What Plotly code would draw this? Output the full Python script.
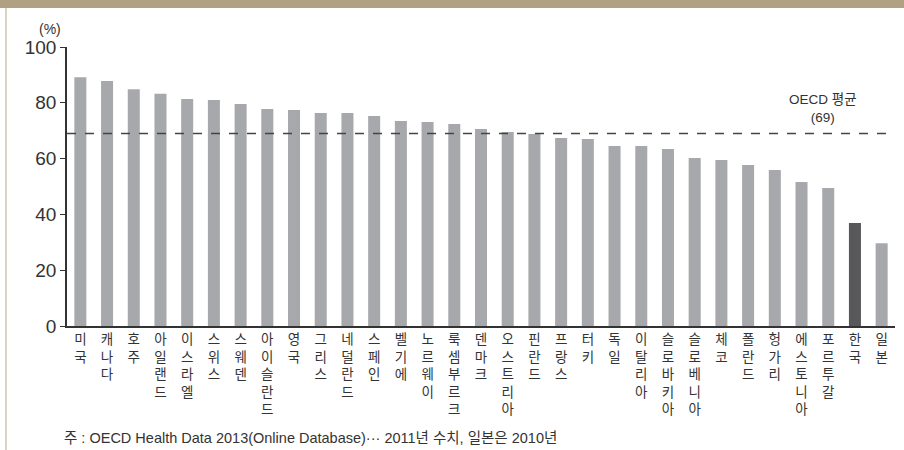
import plotly.graph_objects as go

# OECD countries and share of population rating their own health as good (%)
countries = ["미국", "캐나다", "호주", "아일랜드", "이스라엘", "스위스", "스웨덴", "아이슬란드",
             "영국", "그리스", "네덜란드", "스페인", "벨기에", "노르웨이", "룩셈부르크", "덴마크",
             "오스트리아", "핀란드", "프랑스", "터키", "독일", "이탈리아", "슬로바키아", "슬로베니아",
             "체코", "폴란드", "헝가리", "에스토니아", "포르투갈", "한국", "일본"]
values = [89.2, 87.8, 84.9, 83.2, 81.4, 81.0, 79.6, 77.8,
          77.4, 76.3, 76.3, 75.3, 73.5, 73.1, 72.4, 70.6,
          69.5, 68.8, 67.4, 67.0, 64.5, 64.5, 63.4, 60.2,
          59.5, 57.7, 55.9, 51.6, 49.5, 36.9, 29.7]
oecd_avg = 69
y_ticks = [0, 20, 40, 60, 80, 100]
highlight = "한국"

FONT = "Liberation Sans, Noto Sans CJK KR"
GRAY = "#a7a8ac"
DARK = "#58585a"

colors = [DARK if c == highlight else GRAY for c in countries]
idx = list(range(len(countries)))
# vertical labels: one character per line
vert_labels = ["<br>".join(list(c)) for c in countries]

fig = go.Figure()
fig.add_trace(go.Bar(x=idx, y=values, marker=dict(color=colors, line=dict(width=0)),
                     width=0.45, hoverinfo="skip"))

fig.update_layout(
    width=904, height=450,
    margin=dict(l=67, r=9, t=47, b=124),
    paper_bgcolor="white", plot_bgcolor="white",
    showlegend=False,
    font=dict(family=FONT, color="#333333"),
    bargap=0.55,
)
fig.update_xaxes(
    range=[-0.5, 30.5],
    tickmode="array", tickvals=idx, ticktext=vert_labels,
    tickangle=0, tickfont=dict(size=13.5, color="#333333", family=FONT),
    showline=True, linecolor="#333333", linewidth=1.5,
    showgrid=False, zeroline=False, ticks="",
)
fig.update_yaxes(
    range=[0, 100],
    tickmode="array", tickvals=y_ticks, ticktext=[str(v) for v in y_ticks],
    tickfont=dict(size=19, color="#333333", family=FONT),
    showline=True, linecolor="#333333", linewidth=1.5,
    ticks="outside", ticklen=5, tickwidth=1.2, tickcolor="#333333",
    showgrid=False, zeroline=False,
)

# OECD average reference line
fig.add_shape(type="line", xref="x", yref="y", x0=-0.5, x1=30.4, y0=oecd_avg, y1=oecd_avg,
              line=dict(color="#444444", width=1.5, dash="dash"), layer="above")
fig.add_annotation(xref="x", yref="y", x=27.8, y=oecd_avg, yanchor="bottom", yshift=6,
                   text=f"OECD 평균<br>({oecd_avg})", showarrow=False,
                   font=dict(size=13.5, color="#333333", family=FONT), align="center")

# unit label
fig.add_annotation(xref="paper", yref="paper", x=-17/828, y=(326 - 29) / 279,
                   xanchor="center", yanchor="middle",
                   text="(%)", showarrow=False, font=dict(size=14, color="#333333", family=FONT))

# source note
fig.add_annotation(xref="paper", yref="paper", x=-5/828, y=(326 - 438) / 279,
                   xanchor="left", yanchor="middle",
                   text="주 : OECD Health Data 2013(Online Database)··· 2011년 수치, 일본은 2010년",
                   showarrow=False, font=dict(size=14.5, color="#333333", family=FONT))

# decorative header band and left rule
fig.add_shape(type="rect", xref="paper", yref="paper", x0=-67/828, x1=1 + 9/828,
              y0=(326 - 8) / 279, y1=326 / 279 + 0.01, fillcolor="#b0a182",
              line=dict(width=0), layer="above")
fig.add_shape(type="line", xref="paper", yref="paper", x0=-61/828, x1=-61/828,
              y0=-124/279, y1=(326 - 8) / 279, line=dict(color="#dcd3c3", width=2))

fig.write_html("out.html")
